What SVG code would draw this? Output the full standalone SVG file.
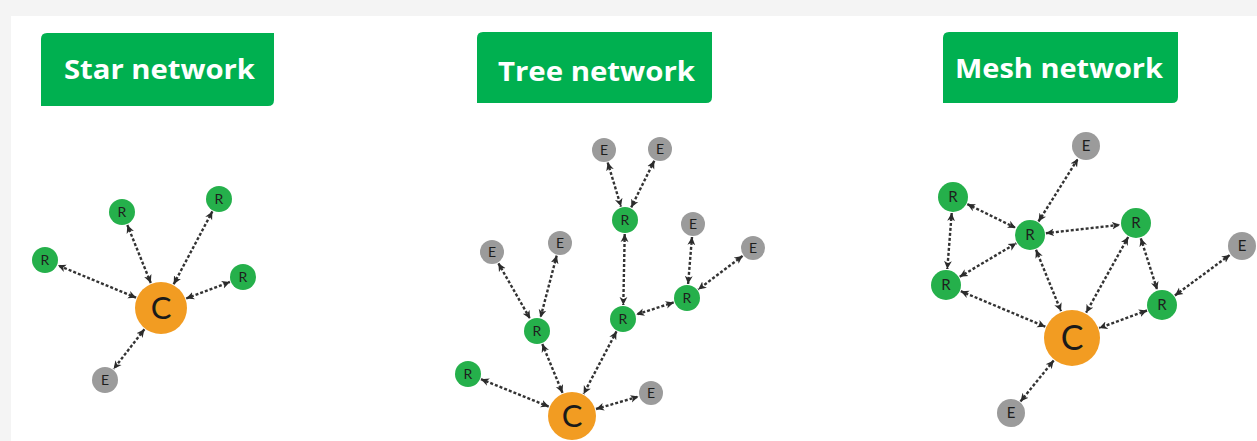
<svg xmlns="http://www.w3.org/2000/svg" width="1257" height="441" viewBox="0 0 1257 441">
<defs>
<marker id="ah" markerUnits="userSpaceOnUse" markerWidth="9" markerHeight="9" refX="8" refY="4.5" orient="auto-start-reverse" viewBox="0 0 9 9">
<path d="M0,0.6 L8,4.5 L0,8.4 L2.2,4.5 Z" fill="#2b2b2b"/>
</marker>
<style>
.title{fill:#00b050}
.tt{font-family:"Open Sans","Liberation Sans",sans-serif;font-weight:700;font-size:26px;fill:#ffffff}
.e line{stroke:#333333;stroke-width:2.4;stroke-dasharray:3 2;marker-start:url(#ah);marker-end:url(#ah)}
.r{fill:#25b04b}
.g{fill:#9b9b9b}
.c{fill:#f29c22}
.lbl{font-family:"Lato","Open Sans",sans-serif;font-size:14px;fill:#1e1e1e;text-anchor:middle}
.cl{font-family:"Lato","Open Sans",sans-serif;font-weight:400;font-size:31px;fill:#1a1a1a;text-anchor:middle}
</style>
</defs>
<rect width="1257" height="441" fill="#f4f4f4"/>
<rect x="11" y="16" width="1246" height="425" fill="#ffffff"/>

<g id="title-star">
<path class="title" d="M47,33 H274 V100 Q274,106 268,106 H41 V39 Q41,33 47,33 Z"/>
<text class="tt" x="64" y="79" textLength="191" lengthAdjust="spacingAndGlyphs">Star network</text>
</g>
<g id="title-tree">
<path class="title" d="M483,32 H712 V97 Q712,103 706,103 H477 V38 Q477,32 483,32 Z"/>
<text class="tt" x="498" y="81" textLength="197" lengthAdjust="spacingAndGlyphs">Tree network</text>
</g>
<g id="title-mesh">
<path class="title" d="M949,32 H1178 V97 Q1178,103 1172,103 H943 V38 Q943,32 949,32 Z"/>
<text class="tt" x="955" y="78" textLength="208" lengthAdjust="spacingAndGlyphs">Mesh network</text>
</g>

<g id="connectors" class="e">
<!-- star -->
<line x1="136.1" y1="297.7" x2="57.9" y2="265.3"/>
<line x1="150.8" y1="283.0" x2="127.3" y2="225.0"/>
<line x1="173.7" y1="284.2" x2="212.4" y2="211.4"/>
<line x1="186.2" y1="298.5" x2="229.9" y2="281.9"/>
<line x1="144.4" y1="329.3" x2="113.6" y2="369.0"/>
<!-- tree -->
<line x1="607.7" y1="162.5" x2="621.0" y2="206.6"/>
<line x1="654.3" y1="160.7" x2="631.2" y2="207.4"/>
<line x1="624.7" y1="234" x2="623.3" y2="305"/>
<line x1="692" y1="237" x2="688.1" y2="284"/>
<line x1="742.6" y1="255.9" x2="698.2" y2="289.5"/>
<line x1="673.7" y1="302.4" x2="636.3" y2="314.6"/>
<line x1="616.5" y1="331.4" x2="583.6" y2="393.9"/>
<line x1="498.4" y1="263.3" x2="530.1" y2="318.8"/>
<line x1="556.7" y1="255.6" x2="540.5" y2="317.5"/>
<line x1="542.3" y1="344.0" x2="562.5" y2="392.9"/>
<line x1="481.0" y1="379.2" x2="548.8" y2="406.6"/>
<line x1="596" y1="409.0" x2="638.5" y2="396.6"/>
<!-- mesh -->
<line x1="967.3" y1="204.1" x2="1015.7" y2="227.9"/>
<line x1="951.7" y1="213.0" x2="947.3" y2="269.0"/>
<line x1="959.7" y1="276.8" x2="1016.3" y2="243.2"/>
<line x1="960.8" y1="291.2" x2="1045.3" y2="326.7"/>
<line x1="1038.5" y1="221.5" x2="1078.0" y2="158.7"/>
<line x1="1045.9" y1="233.2" x2="1120.1" y2="224.8"/>
<line x1="1036.0" y1="249.8" x2="1061.0" y2="311.1"/>
<line x1="1128.2" y1="237.0" x2="1086.1" y2="312.7"/>
<line x1="1140.8" y1="238.3" x2="1157.2" y2="289.8"/>
<line x1="1174.9" y1="295.5" x2="1229.9" y2="254.9"/>
<line x1="1147.0" y1="310.5" x2="1099.2" y2="328.0"/>
<line x1="1053.7" y1="360.5" x2="1020.5" y2="401.4"/>
</g>

<!-- Star nodes -->
<g id="star-c"><circle class="c" cx="161" cy="308" r="26"/><text class="cl" x="161" y="308" dy="0.36em">C</text></g>
<g id="star-r1"><circle class="r" cx="45" cy="260" r="13"/><text class="lbl" x="45" y="260" dy="0.36em">R</text></g>
<g id="star-r2"><circle class="r" cx="122" cy="212" r="13"/><text class="lbl" x="122" y="212" dy="0.36em">R</text></g>
<g id="star-r3"><circle class="r" cx="219" cy="199" r="13"/><text class="lbl" x="219" y="199" dy="0.36em">R</text></g>
<g id="star-r4"><circle class="r" cx="243" cy="277" r="13"/><text class="lbl" x="243" y="277" dy="0.36em">R</text></g>
<g id="star-e1"><circle class="g" cx="105" cy="380" r="13"/><text class="lbl" x="105" y="380" dy="0.36em">E</text></g>

<!-- Tree nodes -->
<g id="tree-c"><circle class="c" cx="572" cy="416" r="24"/><text class="cl" x="572" y="416" dy="0.36em">C</text></g>
<g id="tree-r1"><circle class="r" cx="625" cy="220" r="13"/><text class="lbl" x="625" y="220" dy="0.36em">R</text></g>
<g id="tree-r2"><circle class="r" cx="623" cy="319" r="13"/><text class="lbl" x="623" y="319" dy="0.36em">R</text></g>
<g id="tree-r3"><circle class="r" cx="687" cy="298" r="13"/><text class="lbl" x="687" y="298" dy="0.36em">R</text></g>
<g id="tree-r4"><circle class="r" cx="537" cy="331" r="13"/><text class="lbl" x="537" y="331" dy="0.36em">R</text></g>
<g id="tree-r5"><circle class="r" cx="468" cy="374" r="13"/><text class="lbl" x="468" y="374" dy="0.36em">R</text></g>
<g id="tree-e1"><circle class="g" cx="604" cy="150" r="12"/><text class="lbl" x="604" y="150" dy="0.36em">E</text></g>
<g id="tree-e2"><circle class="g" cx="660" cy="149" r="12"/><text class="lbl" x="660" y="149" dy="0.36em">E</text></g>
<g id="tree-e3"><circle class="g" cx="693" cy="224" r="12"/><text class="lbl" x="693" y="224" dy="0.36em">E</text></g>
<g id="tree-e4"><circle class="g" cx="753" cy="248" r="12"/><text class="lbl" x="753" y="248" dy="0.36em">E</text></g>
<g id="tree-e5"><circle class="g" cx="492" cy="252" r="12"/><text class="lbl" x="492" y="252" dy="0.36em">E</text></g>
<g id="tree-e6"><circle class="g" cx="560" cy="243" r="12"/><text class="lbl" x="560" y="243" dy="0.36em">E</text></g>
<g id="tree-e7"><circle class="g" cx="651" cy="393" r="12"/><text class="lbl" x="651" y="393" dy="0.36em">E</text></g>

<!-- Mesh nodes -->
<g id="mesh-c"><circle class="c" cx="1072" cy="338" r="28"/><text class="cl" x="1072" y="338" dy="0.36em" style="font-size:34px">C</text></g>
<g id="mesh-r1"><circle class="r" cx="953" cy="197" r="15"/><text class="lbl" x="953" y="197" dy="0.36em" style="font-size:15px">R</text></g>
<g id="mesh-r2"><circle class="r" cx="1030" cy="235" r="15"/><text class="lbl" x="1030" y="235" dy="0.36em" style="font-size:15px">R</text></g>
<g id="mesh-r3"><circle class="r" cx="1136" cy="223" r="15"/><text class="lbl" x="1136" y="223" dy="0.36em" style="font-size:15px">R</text></g>
<g id="mesh-r4"><circle class="r" cx="946" cy="285" r="15"/><text class="lbl" x="946" y="285" dy="0.36em" style="font-size:15px">R</text></g>
<g id="mesh-r5"><circle class="r" cx="1162" cy="305" r="15"/><text class="lbl" x="1162" y="305" dy="0.36em" style="font-size:15px">R</text></g>
<g id="mesh-e1"><circle class="g" cx="1086" cy="146" r="14"/><text class="lbl" x="1086" y="146" dy="0.36em" style="font-size:15px">E</text></g>
<g id="mesh-e2"><circle class="g" cx="1242" cy="246" r="14"/><text class="lbl" x="1242" y="246" dy="0.36em" style="font-size:15px">E</text></g>
<g id="mesh-e3"><circle class="g" cx="1011" cy="413" r="14"/><text class="lbl" x="1011" y="413" dy="0.36em" style="font-size:15px">E</text></g>
</svg>
